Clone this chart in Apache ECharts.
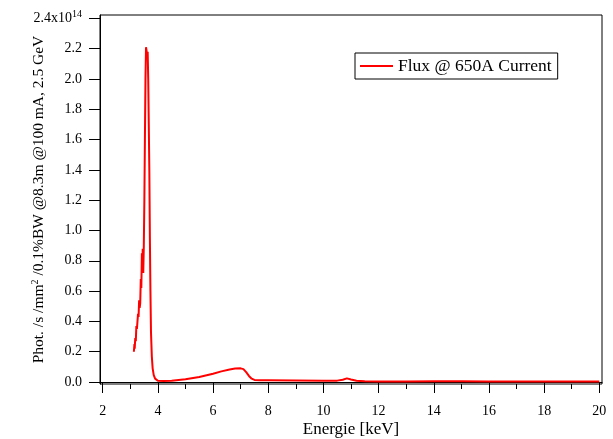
<!DOCTYPE html>
<html>
<head>
<meta charset="utf-8">
<script src="https://cdn.jsdelivr.net/npm/echarts@6/dist/echarts.min.js"></script>
<style>
html,body{margin:0;padding:0;background:#fff;}
#chart{width:613px;height:439px;}
</style>
</head>
<body>
<div id="chart"></div>
<script>
// Energy in keV
const energy = [3.13,3.15,3.16,3.18,3.20,3.22,3.24,3.26,3.28,3.30,3.32,3.34,3.36,3.38,3.40,3.42,3.44,3.45,3.47,3.49,3.51,3.53,3.55,3.57,3.59,3.61,3.63,3.65,3.67,3.69,3.71,3.73,3.75,3.78,3.81,3.85,3.90,3.95,4.0,4.2,4.5,5.0,5.5,6.0,6.3,6.6,6.8,7.0,7.1,7.2,7.3,7.4,7.5,7.7,8.0,9.0,10.0,10.5,10.7,10.85,11.0,11.2,11.5,12,13,14,15,16,17,18,19,20];
// Flux in units of 1e14 phot/s/mm^2/0.1%BW
const flux = [0.20,0.25,0.22,0.29,0.27,0.37,0.35,0.36,0.45,0.43,0.54,0.49,0.52,0.68,0.62,0.85,0.74,0.88,0.72,0.90,1.20,1.60,2.00,2.21,2.20,2.16,2.18,2.00,1.70,1.40,0.95,0.60,0.33,0.17,0.09,0.045,0.022,0.012,0.008,0.006,0.009,0.018,0.033,0.055,0.070,0.083,0.089,0.090,0.085,0.065,0.040,0.022,0.014,0.011,0.011,0.010,0.008,0.009,0.015,0.024,0.017,0.008,0.005,0.004,0.004,0.005,0.005,0.004,0.003,0.003,0.003,0.003];
const xMajorTicks = [2,4,6,8,10,12,14,16,18,20];
const xMinorTicks = [3,5,7,9,11,13,15,17,19];
const yTicks = [0,0.2,0.4,0.6,0.8,1.0,1.2,1.4,1.6,1.8,2.0,2.2,2.4];
const seriesName = 'Flux @ 650A Current';
const xTitle = 'Energie [keV]';
const yTitleParts = ['Phot. /s /mm', '2', ' /0.1%BW @8.3m @100 mA, 2.5 GeV'];

const FONT = 'Liberation Serif';
const chart = echarts.init(document.getElementById('chart'), null, {renderer:'canvas'});
chart.setOption({
  animation:false,
  backgroundColor:'#fff',
  grid:{left:100,right:11,top:15,bottom:55,show:true,borderColor:'#000',borderWidth:1,backgroundColor:'transparent',containLabel:false,outerBoundsMode:'none'},
  legend:{
    show:true,
    data:[seriesName],
    left:355, top:53,
    orient:'horizontal',
    icon:'rect',
    itemWidth:33, itemHeight:2,
    itemGap:5,
    borderColor:'#000', borderWidth:1,
    padding:[4,6,4,5],
    textStyle:{fontFamily:FONT,fontSize:17.5,color:'#000'}
  },
  xAxis:[{
    type:'value', min:1.902, max:20.097,
    name:xTitle, nameLocation:'middle', nameGap:37, nameMoveOverlap:false,
    nameTextStyle:{fontFamily:FONT,fontSize:17,color:'#000'},
    axisLine:{show:true,lineStyle:{color:'#000',width:1}},
    axisTick:{show:true,inside:false,length:11,customValues:xMajorTicks,lineStyle:{color:'#000',width:1}},
    axisLabel:{show:true,customValues:xMajorTicks,margin:20,fontFamily:FONT,fontSize:14,color:'#000',formatter:v=>String(v)},
    splitLine:{show:false}
  },{
    type:'value', min:1.902, max:20.097, position:'bottom',
    axisLine:{show:false},
    axisTick:{show:true,inside:false,length:5,customValues:xMinorTicks,lineStyle:{color:'#000',width:1}},
    axisLabel:{show:false},
    splitLine:{show:false}
  }],
  yAxis:{
    type:'value', min:-0.0132, max:2.4224,
    name:'{a|'+yTitleParts[0]+'}{s|'+yTitleParts[1]+'}{a|'+yTitleParts[2]+'}',
    nameLocation:'middle', nameGap:52, nameRotate:90, nameMoveOverlap:false,
    nameTextStyle:{fontFamily:FONT,fontSize:15.5,color:'#000',
      rich:{a:{fontFamily:FONT,fontSize:15.5,color:'#000'},s:{fontFamily:FONT,fontSize:10,color:'#000',verticalAlign:'top',padding:[0,0,8,0]}}},
    axisLine:{show:true,lineStyle:{color:'#000',width:1}},
    axisTick:{show:true,inside:false,length:11,customValues:yTicks,lineStyle:{color:'#000',width:1}},
    axisLabel:{show:true,customValues:yTicks,margin:18,fontFamily:FONT,fontSize:14,color:'#000',
      formatter:function(v){
        if (Math.abs(v-2.4)<1e-9) return '{a|2.4x10}{s|14}';
        return v.toFixed(1);
      },
      rich:{a:{fontFamily:FONT,fontSize:14,color:'#000'},s:{fontFamily:FONT,fontSize:10,color:'#000',padding:[0,0,8,0]}}
    },
    splitLine:{show:false}
  },
  series:[{
    name:seriesName,
    type:'line',
    data:energy.map((e,i)=>[e,flux[i]]),
    showSymbol:false, symbol:'none',
    lineStyle:{color:'#ff0000',width:2},
    itemStyle:{color:'#ff0000'},
    clip:true
  }]
});
</script>
</body>
</html>
